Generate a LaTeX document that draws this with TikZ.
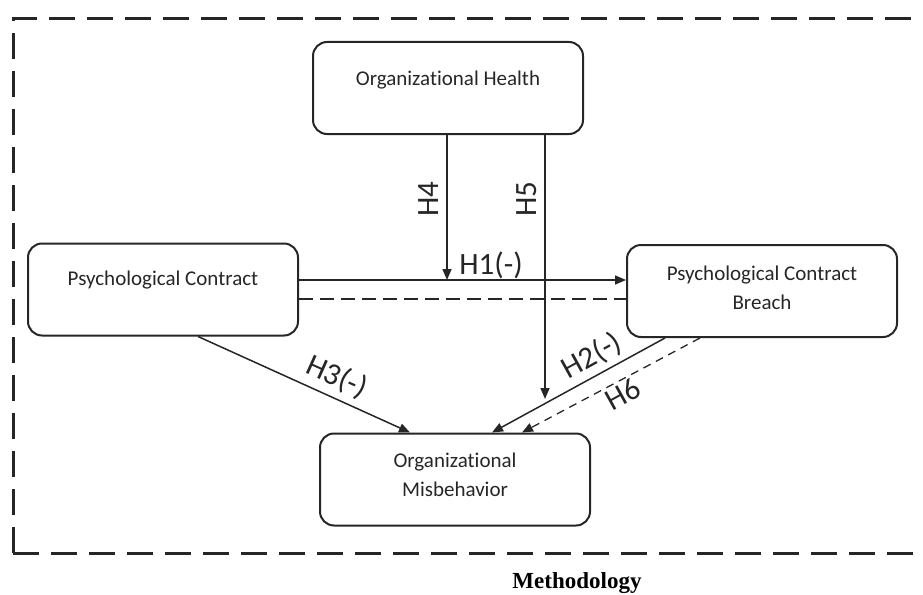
\documentclass[tikz,border=0pt]{standalone}
\usepackage{fontspec}
\setmainfont{Carlito}[Ligatures=NoCommon]
\newfontfamily\capfont{Liberation Serif}
\usetikzlibrary{arrows.meta}
\begin{document}
\begin{tikzpicture}[x=1pt,y=-1pt,
  box/.style={draw=black!85, line width=2pt, rounded corners=14pt, minimum width=270pt, minimum height=92pt, inner sep=0pt},
  txt/.style={font=\fontsize{21}{24}\selectfont, anchor=base, text=black!85, inner sep=0pt},
  lbl/.style={font=\fontsize{31}{34}\selectfont, text=black!85, inner sep=0pt},
  conn/.style={draw=black!85, line width=1.5pt, -{Triangle[length=11pt,width=9pt]}},
  dconn/.style={draw=black!85, line width=1.3pt, dash pattern=on 8pt off 6pt, -{Triangle[length=11pt,width=9pt]}}]
\useasboundingbox (0,0) rectangle (923,594);
\clip (0,0) rectangle (923,594);
\draw[black!85, line width=3pt, dash pattern=on 26pt off 12pt] (13,553) -- (13,19) -- (940,19) (13,553) -- (940,553);
\node[box] (oh) at (448,88) {};
\node[txt] (oht) at (448,85) {Organizational Health};
\node[box] (pc) at (163,289.5) {};
\node[txt] (pct) at (163,285) {Psychological Contract};
\node[box] (pcb) at (762,291) {};
\node[txt] (pcbt1) at (762,280) {Psychological Contract};
\node[txt] (pcbt2) at (762,309) {Breach};
\node[box] (om) at (455,479.5) {};
\node[txt] (omt1) at (455,467) {Organizational};
\node[txt] (omt2) at (455,496) {Misbehavior};
% H1
\coordinate (h1a) at (pc.east |- 0,280);
\coordinate (h1b) at (pcb.west |- 0,280);
\draw[conn] (h1a) -- (h1b);
\draw[draw=black!85, line width=2pt, dash pattern=on 14pt off 7pt] (pc.east |- 0,299) -- (pcb.west |- 0,299);
% H4
\coordinate (h4e) at (447,280);
\draw[conn] (oh.south -| h4e) -- (h4e);
% H5
\coordinate (h5e) at (545,399);
\draw[conn] (oh.south -| h5e) -- (h5e);
% H3
\coordinate (h3s) at (198,0);
\coordinate (h3e) at (410,0);
\draw[conn] (pc.south -| h3s) -- (om.north -| h3e);
% H2
\coordinate (h2s) at (665,0);
\coordinate (h2e) at (492,0);
\draw[conn] (pcb.south -| h2s) -- (om.north -| h2e);
% H6
\coordinate (h6s) at (700,0);
\coordinate (h6e) at (522,0);
\draw[dconn] (pcb.south -| h6s) -- (om.north -| h6e);
% labels
\node[lbl, rotate=90] (l4) at (429,199) {H4};
\node[lbl, rotate=90] (l5) at (527,199) {H5};
\node[lbl] (l1) at (491,265) {H1(-)};
\node[lbl, rotate=-24] (l3) at (337,377) {H3(-)};
\node[lbl, rotate=29] (l2) at (592,356) {H2(-)};
\node[lbl, rotate=29] (l6) at (623,394) {H6};
\node[font=\capfont\bfseries\fontsize{23}{26}\selectfont, anchor=base, inner sep=0pt] (cap) at (577,588) {Methodology};
\end{tikzpicture}
\end{document}
